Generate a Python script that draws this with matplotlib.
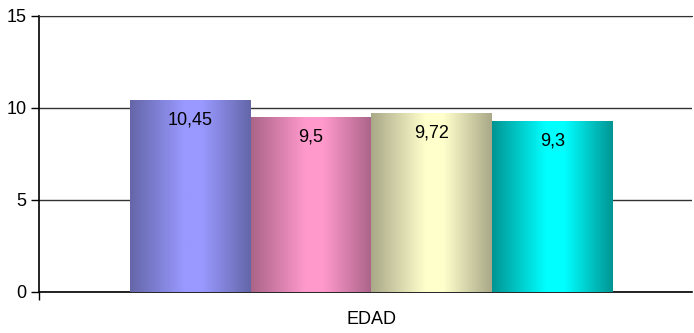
import numpy as np
import matplotlib
matplotlib.use("Agg")
import matplotlib.pyplot as plt
from matplotlib.colors import LinearSegmentedColormap

# === Data ===
category = "EDAD"
values = [10.45, 9.5, 9.72, 9.3]
labels = ["10,45", "9,5", "9,72", "9,3"]
dark_colors = ["#6466A8", "#AA6488", "#A9A888", "#009593"]
light_colors = ["#9999FF", "#FF99CC", "#FFFFCC", "#00FFFF"]

plt.rcParams["font.family"] = ["Liberation Sans Narrow", "Liberation Sans", "DejaVu Sans"]

fig = plt.figure(figsize=(6.94, 3.33), dpi=100)
ax = fig.add_axes([39 / 694, 41 / 333, 653 / 694, 276 / 333])

width = 0.185
offset = 0.009
positions = [offset + (i - 1.5) * width for i in range(len(values))]

grad = np.linspace(0, 1, 256).reshape(1, -1)

for x, v, lab, dc, lc in zip(positions, values, labels, dark_colors, light_colors):
    bar = ax.bar(x, v, width=width, color=lc, edgecolor="none", zorder=3)[0]
    cmap = LinearSegmentedColormap.from_list(
        "g", [(0, dc), (0.45, lc), (0.6, lc), (1, dc)])
    im = ax.imshow(grad, cmap=cmap, aspect="auto", zorder=3,
                   extent=[x - width / 2, x + width / 2, 0, v])
    im.set_clip_path(bar)
    ax.text(x, v - 1.1, lab, ha="center", va="center", fontsize=13,
            color="black", zorder=4)

ax.set_xlim(-0.5, 0.5)
ax.set_ylim(0, 15)
ax.set_yticks([0, 5, 10, 15])
ax.set_yticklabels(["0", "5", "10", "15"], fontsize=13)
ax.set_xticks([offset])
ax.set_xticklabels([category], fontsize=13)
ax.tick_params(axis="x", length=0, pad=14)
ax.set_xticks([-0.5], minor=True)
ax.tick_params(axis="x", which="minor", length=6, width=1, direction="out")
ax.tick_params(axis="y", length=6, width=1, direction="out", pad=3)

ax.yaxis.grid(True, color="#333333", linewidth=1, zorder=0)
ax.set_axisbelow(True)
ax.spines["right"].set_visible(False)
ax.spines["top"].set_color("#333333")
ax.spines["left"].set_linewidth(1.2)
ax.spines["bottom"].set_linewidth(1.2)

fig.savefig("out.png", dpi=100)
